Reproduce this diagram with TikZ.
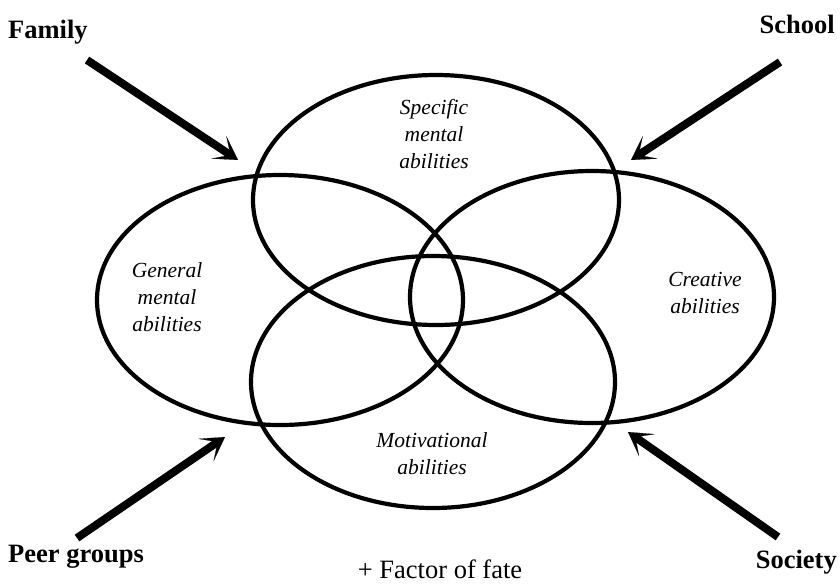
\documentclass[tikz,border=0pt]{standalone}
\usepackage{fontspec}
\setmainfont{Liberation Serif}
\usetikzlibrary{arrows.meta}

\begin{document}
\begin{tikzpicture}[x=1pt,y=-1pt,
  ring/.style={line width=4.2pt},
  influence/.style={line width=8pt, line cap=butt,
    -{Stealth[length=23pt,width=27pt,inset=14pt,line width=0.1pt]}},
  source/.style={font=\fontsize{26.5}{30}\selectfont\bfseries, inner sep=0pt},
  ability/.style={font=\fontsize{21.5}{27}\selectfont\itshape, align=center, inner sep=0pt},
  note/.style={font=\fontsize{26.5}{30}\selectfont, inner sep=0pt}]

  \useasboundingbox (0,0) rectangle (840,587);

  % the four overlapping fields of ability
  \coordinate (cTop)    at (436,200);
  \coordinate (cLeft)   at (280,300);
  \coordinate (cRight)  at (592,297);
  \coordinate (cBottom) at (433,382);
  \draw[ring] (cTop)    ellipse [x radius=183, y radius=125];
  \draw[ring] (cLeft)   ellipse [x radius=183, y radius=125];
  \draw[ring] (cRight)  ellipse [x radius=182, y radius=126];
  \draw[ring] (cBottom) ellipse [x radius=182, y radius=126];

  \node[ability] (specific) at (434,134) {Specific\\mental\\abilities};
  \node[ability] (general)  at (167,297) {General\\mental\\abilities};
  \node[ability] (creative) at (705,293) {Creative\\abilities};
  \node[ability] (motiv)    at (432,454) {Motivational\\abilities};

  % outside influences
  \node[source, anchor=base west] (family)  at (8,38)    {Family};
  \node[source, anchor=base east] (school)  at (835,33)  {School};
  \node[source, anchor=base west] (peers)   at (8,562)   {Peer groups};
  \node[source, anchor=base east] (society) at (837,568) {Society};

  \node[note, anchor=base] (fate) at (440,578) {+ Factor of fate};

  \coordinate (familyTail)  at (87,60);
  \coordinate (familyTip)   at (238,160);
  \coordinate (schoolTail)  at (780,62);
  \coordinate (schoolTip)   at (631,160);
  \coordinate (peersTail)   at (77,538);
  \coordinate (peersTip)    at (225,437);
  \coordinate (societyTail) at (778,537);
  \coordinate (societyTip)  at (628,432);

  \draw[influence] (familyTail)  -- (familyTip);
  \draw[influence] (schoolTail)  -- (schoolTip);
  \draw[influence] (peersTail)   -- (peersTip);
  \draw[influence] (societyTail) -- (societyTip);
\end{tikzpicture}
\end{document}
